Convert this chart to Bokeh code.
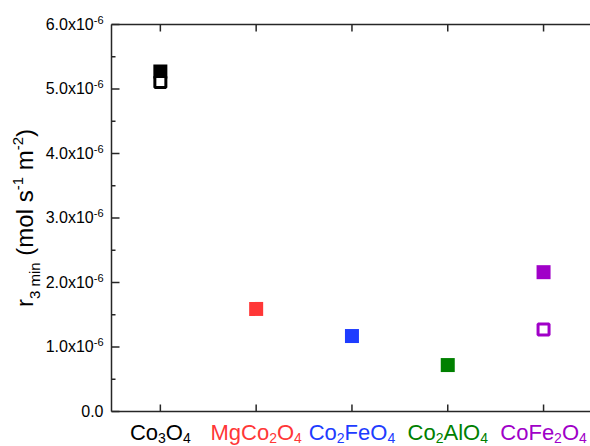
import math
from bokeh.plotting import figure
from bokeh.models import Label, Range1d
from bokeh.embed import file_html
from bokeh.resources import INLINE

# ---------------- data ----------------
categories = ["Co3O4", "MgCo2O4", "Co2FeO4", "Co2AlO4", "CoFe2O4"]
cat_colors = ["#000000", "#FF3737", "#1E3CFF", "#008000", "#A000C8"]
x_pos = [1, 2, 3, 4, 5]
r_filled = [5.27e-6, 1.59e-6, 1.17e-6, 0.72e-6, 2.16e-6]
open_x = [1, 5]
r_open = [5.11e-6, 1.27e-6]
open_colors = ["#000000", "#A000C8"]
y_ticks = [0.0, 1e-6, 2e-6, 3e-6, 4e-6, 5e-6, 6e-6]
y_minor = [0.5e-6, 1.5e-6, 2.5e-6, 3.5e-6, 4.5e-6, 5.5e-6]
ytick_base = ["0.0", "1.0x10", "2.0x10", "3.0x10", "4.0x10", "5.0x10", "6.0x10"]
ytick_exp = ["", "-6", "-6", "-6", "-6", "-6", "-6"]
y_title = [("r", "n"), ("3 min", "sub"), (" (mol s", "n"), ("-1", "sup"),
           (" m", "n"), ("-2", "sup"), (")", "n")]

FONT = "Liberation Sans"
AXC = "#262626"
X0, X1 = 0.49, 5.49      # visible data x-extent of the axes box
Y0, Y1 = 0.0, 6e-6       # data y-extent of the axes box

# layout (pixels)
WIDTH, HEIGHT = 590, 446
FL, FR, FT, FB = 111, 590, 24, 411
BASE_FIX = 0.32          # empirical baseline correction (fraction of font size)

xs = (FR - FL) / (X1 - X0)          # px per x unit
ys = (FB - FT) / (Y1 - Y0)          # px per y unit
x_start = X0 - FL / xs
x_end = X1 + (WIDTH - FR) / xs
y_start = Y0 - (HEIGHT - FB) / ys
y_end = Y1 + FT / ys

# Arial / Liberation Sans advance widths (per 1000 em)
W = {c: 556 for c in "0123456789"}
W.update({".": 278, "x": 500, " ": 278, "(": 333, ")": 333, "-": 333, "C": 722,
          "o": 556, "O": 778, "M": 833, "g": 556, "F": 611, "e": 556, "A": 667,
          "l": 222, "r": 333, "m": 833, "i": 222, "n": 556, "s": 500})


def tw(t, fs):
    return sum(W.get(c, 556) for c in t) * fs / 1000.0


p = figure(width=WIDTH, height=HEIGHT, x_range=Range1d(x_start, x_end),
           y_range=Range1d(y_start, y_end), toolbar_location=None, output_backend="svg",
           x_axis_location=None, y_axis_location=None,
           min_border_left=0, min_border_right=0, min_border_top=0, min_border_bottom=0)
p.outline_line_color = None
p.grid.visible = False
p.background_fill_color = "white"
p.border_fill_color = "white"

# ---------------- axes box drawn through the data scales ----------------
LW = 1.5
p.segment(x0=[X0], y0=[Y0], x1=[X0], y1=[Y1], line_color=AXC, line_width=LW)
p.segment(x0=[X0, X0], y0=[Y0, Y1], x1=[X1, X1], y1=[Y0, Y1], line_color=AXC, line_width=LW)
p.segment(x0=[X0] * len(y_ticks), y0=y_ticks, x1=[X0 + 8 / xs] * len(y_ticks), y1=y_ticks,
          line_color=AXC, line_width=LW)
p.segment(x0=[X0] * len(y_minor), y0=y_minor, x1=[X0 + 4 / xs] * len(y_minor), y1=y_minor,
          line_color=AXC, line_width=LW)
p.segment(x0=x_pos, y0=[Y0] * len(x_pos), x1=x_pos, y1=[Y0 + 7 / ys] * len(x_pos),
          line_color=AXC, line_width=LW)
p.segment(x0=x_pos, y0=[Y1] * len(x_pos), x1=x_pos, y1=[Y1 - 7 / ys] * len(x_pos),
          line_color=AXC, line_width=LW)

# ---------------- markers ----------------
p.scatter(x=x_pos, y=r_filled, marker="square", size=14, fill_color=cat_colors,
          line_color=None)
p.scatter(x=open_x, y=r_open, marker="square", size=11, fill_color="white",
          line_color=open_colors, line_width=3)


# ---------------- rich text helper ----------------
def rich(segs, x, y, xo, yo, sizes, shifts, color="black", angle=0.0, align="center"):
    ca, sa = math.cos(angle), math.sin(angle)
    total = sum(tw(t, sizes[k]) for t, k in segs)
    if align == "center":
        start = -total / 2.0
    elif align == "right":
        start = -total
    else:
        start = 0.0
    cum = start
    for t, k in segs:
        fs = sizes[k]
        lead = len(t) - len(t.lstrip(" "))
        txt = t.strip(" ")
        pos = cum + tw(" " * lead, fs)
        sh = shifts[k] + BASE_FIX * fs
        ox = xo + ca * pos - sa * sh
        oy = yo + sa * pos + ca * sh
        if txt:
            p.add_layout(Label(x=x, y=y, x_offset=ox, y_offset=oy, text=txt,
                               text_font=FONT, text_font_size=f"{fs}px",
                               text_color=color, text_align="left",
                               text_baseline="alphabetic", angle=angle))
        cum += tw(t, fs)


# y tick labels
for v, b, e in zip(y_ticks, ytick_base, ytick_exp):
    segs = [(b, "n")] + ([(e, "sup")] if e else [])
    rich(segs, X0, v, -8, -5, {"n": 16, "sup": 11}, {"n": 0, "sup": 6}, align="right")

# category labels (digits -> subscripts)
for xc, name, col in zip(x_pos, categories, cat_colors):
    segs = []
    for ch in name:
        k = "sub" if ch.isdigit() else "n"
        if segs and segs[-1][1] == k:
            segs[-1] = (segs[-1][0] + ch, k)
        else:
            segs.append((ch, k))
    rich(segs, xc, Y0, 0, -28, {"n": 22, "sub": 14}, {"n": 0, "sub": -3}, color=col)

# y axis title
rich(y_title, X0, (Y0 + Y1) / 2, -79, 0, {"n": 24, "sub": 15, "sup": 15},
     {"n": 0, "sub": -7, "sup": 10}, angle=math.pi / 2)

open("out.html", "w").write(file_html(p, INLINE))
